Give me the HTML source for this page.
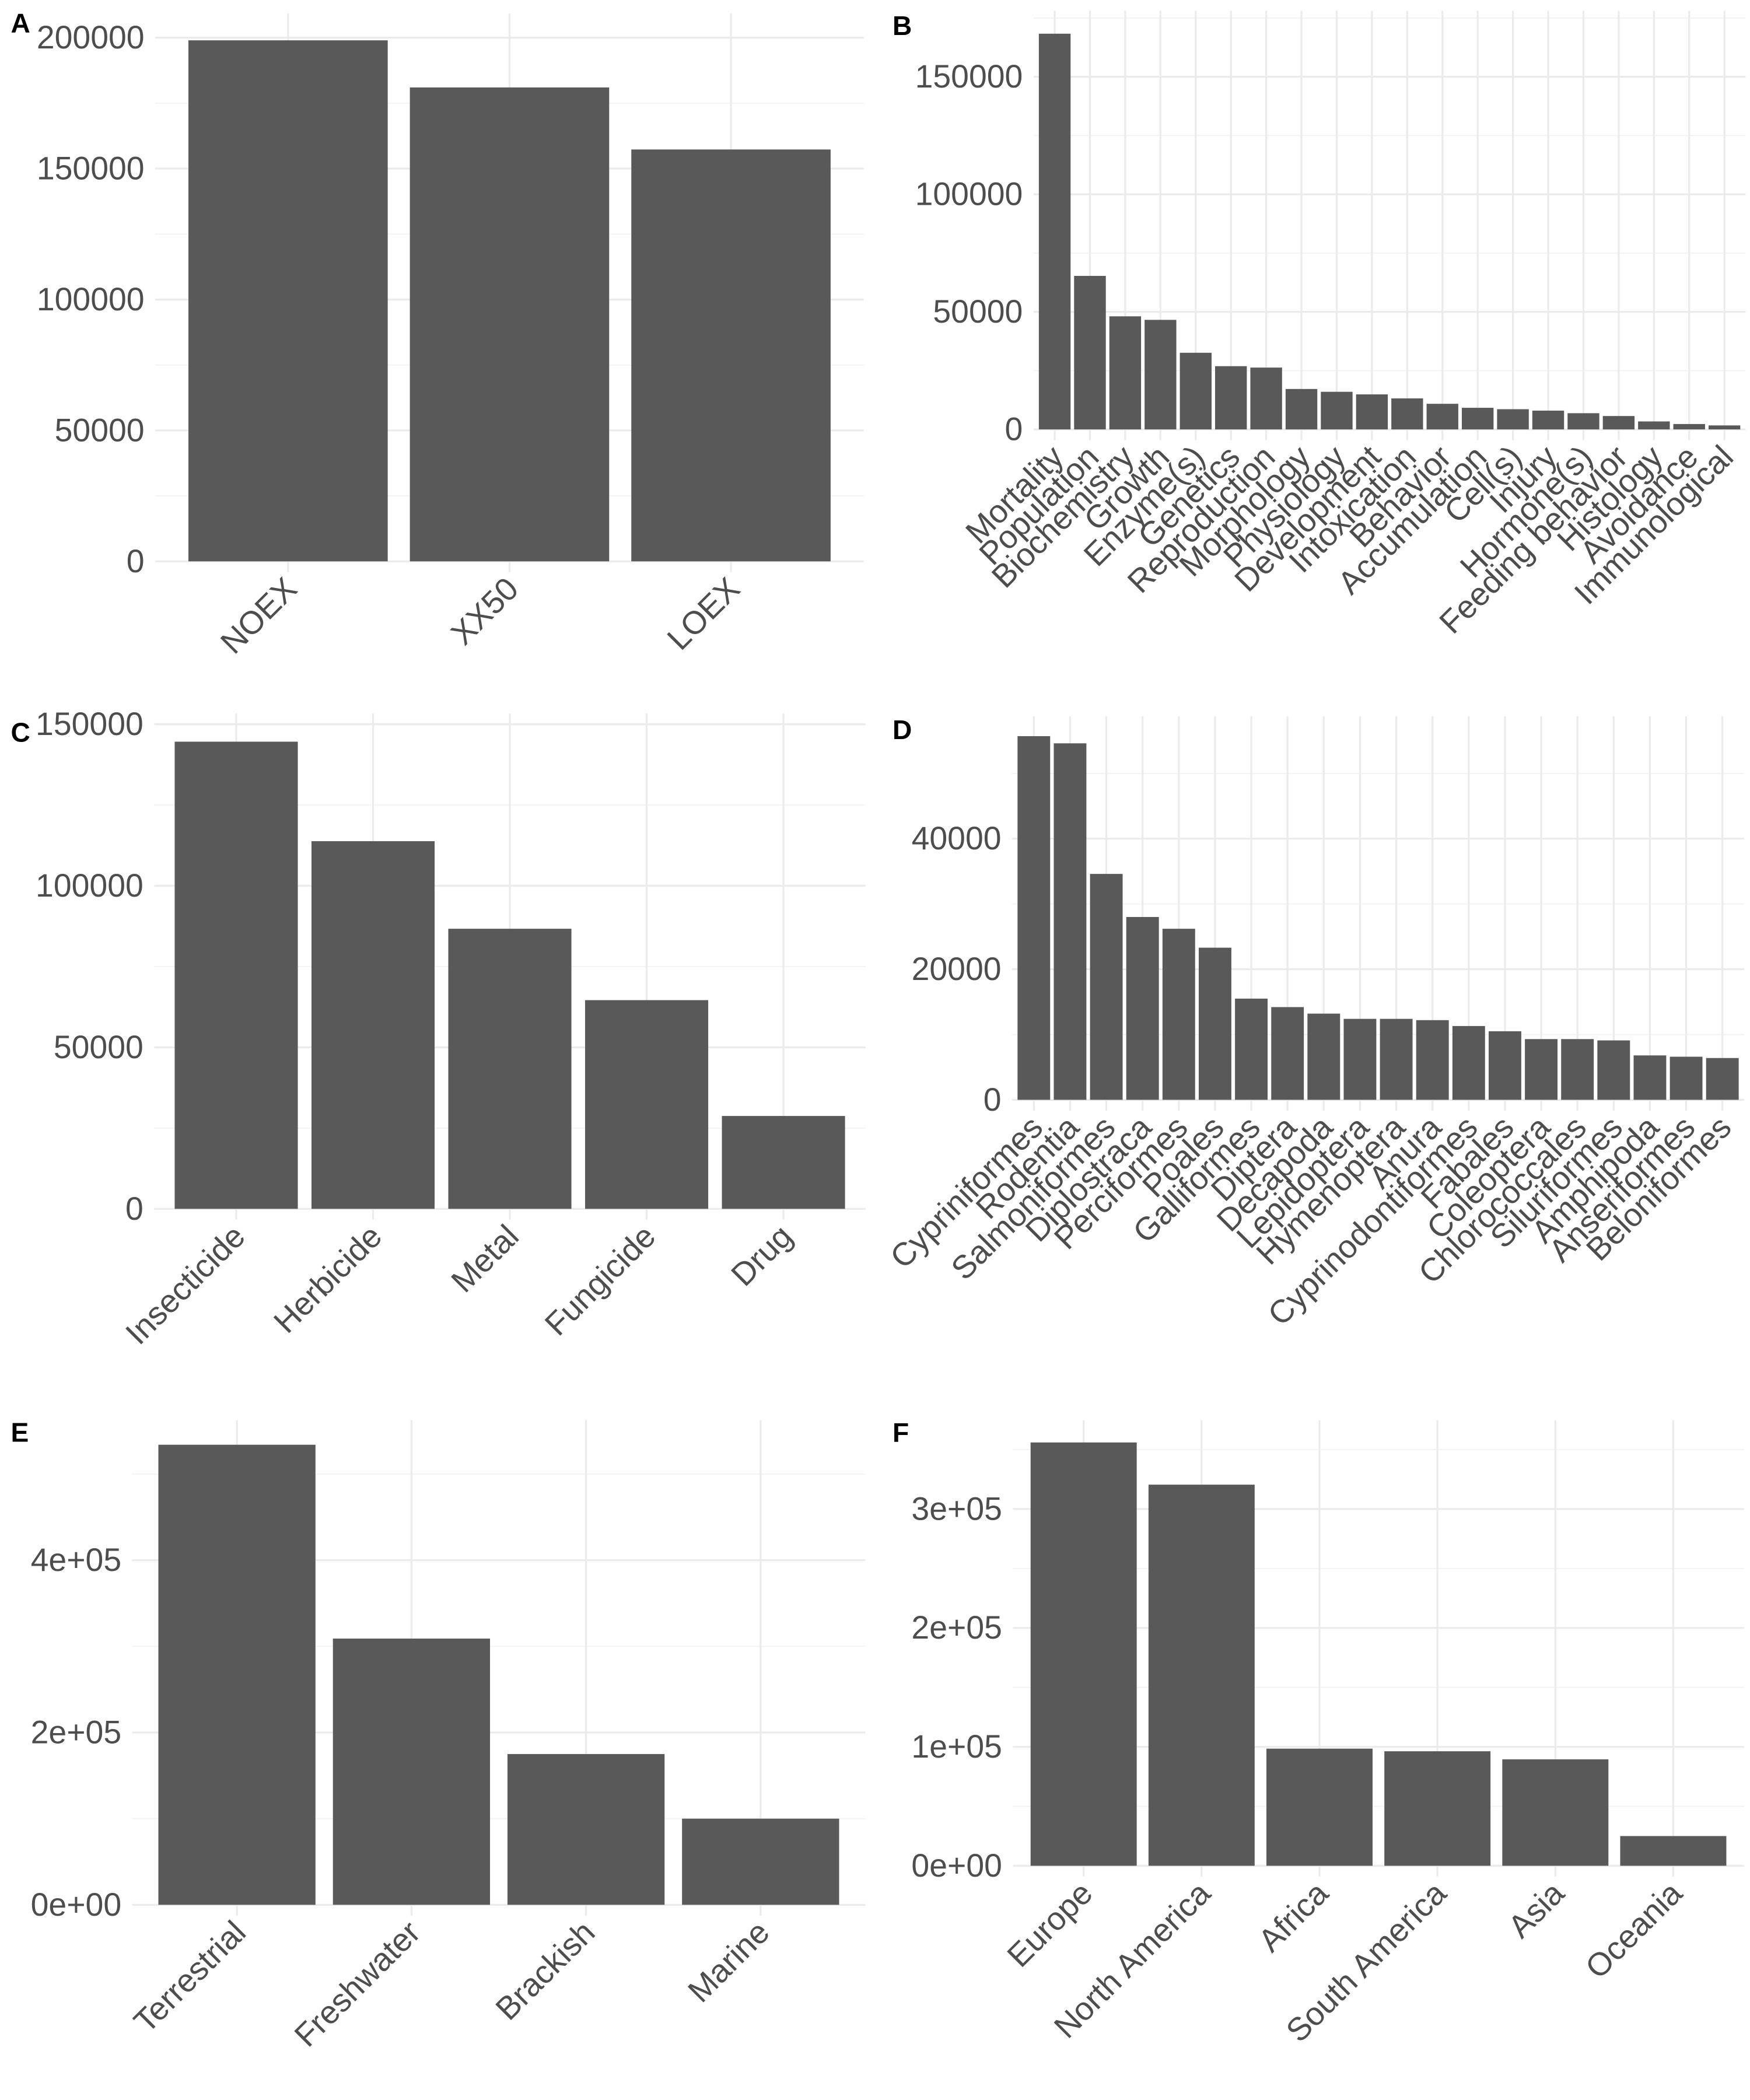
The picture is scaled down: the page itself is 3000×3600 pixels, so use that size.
<!DOCTYPE html>
<html><head><meta charset="utf-8">
<style>
html,body{margin:0;padding:0;background:#fff;}
svg{display:block;}
text{font-family:"Liberation Sans","DejaVu Sans",sans-serif;}
</style></head>
<body>
<svg id="fig" width="3000" height="3600" viewBox="0 0 1300 1560" xmlns="http://www.w3.org/2000/svg"></svg>
<script>
// Panel A
const catsA = ["NOEX","XX50","LOEX"];
const valsA = [199000,181000,157300];
const ticksA = [0,50000,100000,150000,200000];
const tickLabA = ["0","50000","100000","150000","200000"];
// Panel B
const catsB = ["Mortality","Population","Biochemistry","Growth","Enzyme(s)","Genetics","Reproduction","Morphology","Physiology","Development","Intoxication","Behavior","Accumulation","Cell(s)","Injury","Hormone(s)","Feeding behavior","Histology","Avoidance","Immunological"];
const valsB = [168300,65300,48100,46600,32600,26900,26300,17200,16000,14900,13200,10900,9200,8600,8000,6900,5700,3400,2300,1700];
const ticksB = [0,50000,100000,150000];
const tickLabB = ["0","50000","100000","150000"];
// Panel C
const catsC = ["Insecticide","Herbicide","Metal","Fungicide","Drug"];
const valsC = [144600,113800,86700,64600,28750];
const ticksC = [0,50000,100000,150000];
const tickLabC = ["0","50000","100000","150000"];
// Panel D
const catsD = ["Cypriniformes","Rodentia","Salmoniformes","Diplostraca","Perciformes","Poales","Galliformes","Diptera","Decapoda","Lepidoptera","Hymenoptera","Anura","Cyprinodontiformes","Fabales","Coleoptera","Chlorococcales","Siluriformes","Amphipoda","Anseriformes","Beloniformes"];
const valsD = [55700,54600,34600,28000,26200,23300,15500,14200,13200,12400,12400,12200,11300,10500,9300,9300,9100,6800,6600,6400];
const ticksD = [0,20000,40000];
const tickLabD = ["0","20000","40000"];
// Panel E
const catsE = ["Terrestrial","Freshwater","Brackish","Marine"];
const valsE = [534000,309000,175000,100000];
const ticksE = [0,200000,400000];
const tickLabE = ["0e+00","2e+05","4e+05"];
// Panel F
const catsF = ["Europe","North America","Africa","South America","Asia","Oceania"];
const valsF = [356000,320500,98500,96300,89500,25000];
const ticksF = [0,100000,200000,300000];
const tickLabF = ["0e+00","1e+05","2e+05","3e+05"];

const NS="http://www.w3.org/2000/svg";
const svg=document.getElementById('fig');
function mk(tag,attrs,parent){const e=document.createElementNS(NS,tag);for(const k in attrs)e.setAttribute(k,attrs[k]);(parent||svg).appendChild(e);return e;}

function panel(letter,lx,ly,cats,vals,ticks,tickLabs,c1,cN,y0,yRef,vRef,yTop){
  const g=mk('g',{});
  
  
  const n=cats.length;
  const step=n>1?(cN-c1)/(n-1):100;
  const xc=i=>c1+i*step;
  const left=c1-0.6*step, right=cN+0.6*step;
  const ys=v=>y0-(v/vRef)*(y0-yRef);
  const tstep=ticks[1]-ticks[0];
  for(let v=tstep/2; ys(v)>=yTop-0.5; v+=tstep){
    const l=mk('line',{x1:left,x2:right,y1:ys(v),y2:ys(v),stroke:'#f2f2f2','stroke-width':0.8},g);
    
    
  }
  ticks.forEach((v,i)=>{
    const l=mk('line',{x1:left,x2:right,y1:ys(v),y2:ys(v),stroke:'#ebebeb','stroke-width':1.4},g);
    
    
    const t=mk('text',{x:left-8,y:ys(v)+8,'text-anchor':'end','font-size':24,fill:'#4d4d4d'},g);
    t.textContent=tickLabs[i];
    
    
  });
  cats.forEach((c,i)=>{
    const l=mk('line',{x1:xc(i),x2:xc(i),y1:yTop,y2:y0+8,stroke:'#ebebeb','stroke-width':1.4},g);
    
    
  });
  cats.forEach((c,i)=>{
    const bw=0.9*step;
    const r=mk('rect',{x:xc(i)-bw/2,y:ys(vals[i]),width:bw,height:y0-ys(vals[i]),fill:'#595959'},g);
    
    
    const tx=xc(i)+8, ty=y0+22;
    const t=mk('text',{x:tx,y:ty,'text-anchor':'end','font-size':24,fill:'#4d4d4d',transform:`rotate(-45 ${tx} ${ty})`},g);
    t.textContent=c;
    
    
  });
  const L=mk('text',{x:lx,y:ly,'font-size':20,'font-weight':'bold',fill:'#000'},g);
  L.textContent=letter;
  
  
}
panel('A',8,24,catsA,valsA,ticksA,tickLabA,214,543,417,28,200000,10);
panel('B',663,26,catsB,valsB,ticksB,tickLabB,783.5,1281,319,57,150000,8);
panel('C',8,551,catsC,valsC,ticksC,tickLabC,175.5,582,898,538,150000,530);
panel('D',663,549,catsD,valsD,ticksD,tickLabD,768,1279.5,817,623,40000,532);
panel('E',8,1071,catsE,valsE,ticksE,tickLabE,176,565,1415,1159,400000,1055);
panel('F',663,1071,catsF,valsF,ticksF,tickLabF,805,1243,1386,1121,300000,1055);
</script>
</body></html>
